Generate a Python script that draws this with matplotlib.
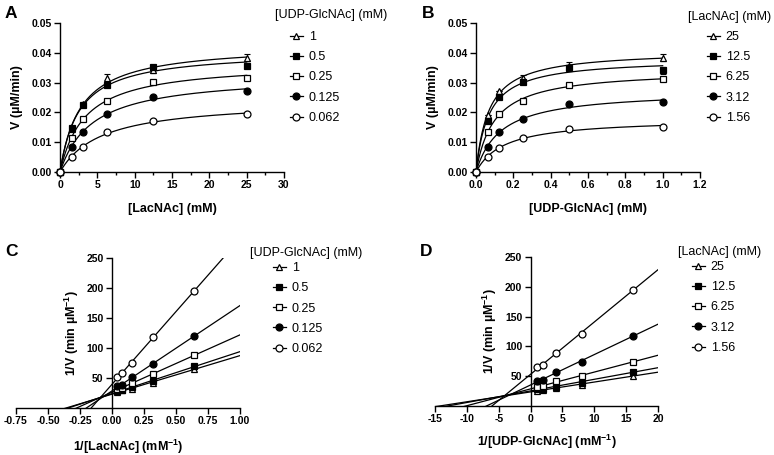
import numpy as np
import matplotlib
matplotlib.use("Agg")
import matplotlib.pyplot as plt
from matplotlib.ticker import FormatStrFormatter, MultipleLocator, FixedLocator
from matplotlib.lines import Line2D

plt.rcParams['font.family'] = ['Liberation Sans', 'DejaVu Sans']
plt.rcParams['axes.unicode_minus'] = False
plt.rcParams['mathtext.fontset'] = 'custom'
plt.rcParams['mathtext.rm'] = 'Liberation Sans:bold'
plt.rcParams['mathtext.bf'] = 'Liberation Sans:bold'
plt.rcParams['mathtext.it'] = 'Liberation Sans:bold'
plt.rcParams['mathtext.default'] = 'rm'

# ---------------- data ----------------
# Panel A: V vs [LacNAc] at several [UDP-GlcNAc]
lacnac_mM = [0, 1.56, 3.12, 6.25, 12.5, 25]
udp_labels = ['1', '0.5', '0.25', '0.125', '0.062']
A_v_udp1 = [0, 0.0145, 0.0229, 0.0316, 0.0342, 0.0384]
A_v_udp05 = [0, 0.0147, 0.0226, 0.0292, 0.0351, 0.0357]
A_v_udp025 = [0, 0.0113, 0.0177, 0.0239, 0.0303, 0.0315]
A_v_udp0125 = [0, 0.0083, 0.0135, 0.0195, 0.0253, 0.0272]
A_v_udp0062 = [0, 0.0050, 0.0083, 0.0133, 0.0171, 0.0194]
A_err_udp1 = [0, 0, 0, 0.0013, 0.0010, 0.0012]
A_err_udp05 = [0, 0, 0, 0, 0.0008, 0.0008]

# Panel B: V vs [UDP-GlcNAc] at several [LacNAc]
udp_mM = [0, 0.0625, 0.125, 0.25, 0.5, 1.0]
lac_labels = ['25', '12.5', '6.25', '3.12', '1.56']
B_v_lac25 = [0, 0.0191, 0.0272, 0.0317, 0.0357, 0.0384]
B_v_lac125 = [0, 0.0171, 0.0253, 0.0303, 0.0348, 0.0342]
B_v_lac625 = [0, 0.0135, 0.0194, 0.0239, 0.0292, 0.0312]
B_v_lac312 = [0, 0.0083, 0.0135, 0.0177, 0.0227, 0.0234]
B_v_lac156 = [0, 0.0049, 0.0082, 0.0113, 0.0143, 0.0152]
B_err_lac25 = [0, 0, 0, 0.0008, 0.0012, 0.0012]
B_err_lac125 = [0, 0, 0, 0, 0, 0.0012]

# Panel C: double reciprocal, 1/[LacNAc]
inv_lacnac = [0.04, 0.08, 0.16, 0.32, 0.64]
C_inv_v_udp1 = [26.5, 29.5, 31.5, 42.5, 65]
C_inv_v_udp05 = [28, 29.5, 34.5, 45, 69.5]
C_inv_v_udp025 = [31.5, 33, 42, 56, 88]
C_inv_v_udp0125 = [36.5, 38, 51, 73.5, 120]
C_inv_v_udp0062 = [52, 58.5, 74.5, 118, 195]

# Panel D: double reciprocal, 1/[UDP-GlcNAc]
inv_udp = [1, 2, 4, 8, 16]
D_inv_v_lac25 = [26, 27.5, 30, 35, 51]
D_inv_v_lac125 = [29, 29, 32.5, 39, 57.5]
D_inv_v_lac625 = [32, 33, 41.5, 50.5, 74]
D_inv_v_lac312 = [42.5, 44, 56.5, 73.5, 118]
D_inv_v_lac156 = [65, 69, 88.5, 120.5, 195]

styles = [('^', 'white'), ('s', 'black'), ('s', 'white'), ('o', 'black'), ('o', 'white')]

W, H = 774, 455
fig = plt.figure(figsize=(W / 100, H / 100), dpi=100)


def px_axes(l, t, r, b):
    return fig.add_axes([l / W, 1 - b / H, (r - l) / W, (b - t) / H])


def fit_mm(s, v):
    s = np.asarray(s, float)
    v = np.asarray(v, float)
    best = None
    for km in np.linspace(0.001, 3 * s.max(), 6000):
        f = s / (km + s)
        vm = np.sum(v * f) / np.sum(f * f)
        sse = np.sum((v - vm * f) ** 2)
        if best is None or sse < best[0]:
            best = (sse, vm, km)
    return best[1], best[2]


TICK_FS = 7.5
LAB_FS = 9
LEG_FS = 9
MS = 5
LW = 0.9


def style_axes(ax):
    for sp in ['top', 'right']:
        ax.spines[sp].set_visible(False)
    for sp in ['left', 'bottom']:
        ax.spines[sp].set_linewidth(1.0)
    ax.tick_params(which='major', direction='out', length=4, width=1.0,
                   labelsize=TICK_FS, pad=2)
    ax.tick_params(which='minor', direction='out', length=2.5, width=1.0)
    for lab in ax.get_xticklabels() + ax.get_yticklabels():
        lab.set_fontweight('bold')


def add_legend(ax, labels, title, title_xy, handle_x, first_top):
    handles = []
    for (m, fc), lab in zip(styles, labels):
        handles.append(Line2D([0], [0], color='black', lw=LW, marker=m,
                              markerfacecolor=fc, markeredgecolor='black',
                              markersize=MS, markeredgewidth=0.9))
    fig.text(title_xy[0] / W, 1 - title_xy[1] / H, title, fontsize=LEG_FS,
             ha='left', va='center')
    leg = ax.legend(handles, labels, loc='upper left',
                    bbox_to_anchor=(handle_x / W, 1 - first_top / H),
                    bbox_transform=fig.transFigure, frameon=False,
                    fontsize=LEG_FS, handlelength=1.0, handletextpad=0.5,
                    labelspacing=0.66, borderpad=0, borderaxespad=0)
    return leg


# ---------------- Panel A ----------------
axA = px_axes(60, 23, 284, 172)
A_series = [A_v_udp1, A_v_udp05, A_v_udp025, A_v_udp0125, A_v_udp0062]
A_errs = [A_err_udp1, A_err_udp05, None, None, None]
sfine = np.linspace(0, 25, 300)
for (m, fc), vals, err in zip(styles, A_series, A_errs):
    vm, km = fit_mm(lacnac_mM, vals)
    axA.plot(sfine, vm * sfine / (km + sfine), color='black', lw=LW, zorder=2)
    if err is not None:
        axA.errorbar(lacnac_mM, vals, yerr=err, fmt='none', ecolor='black',
                     elinewidth=0.8, capsize=2.5, capthick=0.8, zorder=3)
    axA.plot(lacnac_mM, vals, ls='none', marker=m, markerfacecolor=fc,
             markeredgecolor='black', markersize=MS, markeredgewidth=0.9,
             clip_on=False, zorder=4)
axA.set_xlim(0, 30)
axA.set_ylim(0, 0.05)
axA.xaxis.set_major_locator(MultipleLocator(5))
axA.xaxis.set_minor_locator(MultipleLocator(2.5))
axA.yaxis.set_major_locator(MultipleLocator(0.01))
axA.yaxis.set_major_formatter(FormatStrFormatter('%.2f'))
axA.set_xlabel('[LacNAc] (mM)', fontsize=LAB_FS, fontweight='bold', labelpad=9)
axA.set_ylabel('V (µM/min)', fontsize=LAB_FS, fontweight='bold', labelpad=6)
style_axes(axA)
add_legend(axA, udp_labels, '[UDP-GlcNAc] (mM)', (275, 15), 290, 31)

# ---------------- Panel B ----------------
axB = px_axes(476, 23, 700, 172)
B_series = [B_v_lac25, B_v_lac125, B_v_lac625, B_v_lac312, B_v_lac156]
B_errs = [B_err_lac25, B_err_lac125, None, None, None]
ufine = np.linspace(0, 1.0, 300)
for (m, fc), vals, err in zip(styles, B_series, B_errs):
    vm, km = fit_mm(udp_mM, vals)
    axB.plot(ufine, vm * ufine / (km + ufine), color='black', lw=LW, zorder=2)
    if err is not None:
        axB.errorbar(udp_mM, vals, yerr=err, fmt='none', ecolor='black',
                     elinewidth=0.8, capsize=2.5, capthick=0.8, zorder=3)
    axB.plot(udp_mM, vals, ls='none', marker=m, markerfacecolor=fc,
             markeredgecolor='black', markersize=MS, markeredgewidth=0.9,
             clip_on=False, zorder=4)
axB.set_xlim(0, 1.2)
axB.set_ylim(0, 0.05)
axB.xaxis.set_major_locator(MultipleLocator(0.2))
axB.xaxis.set_minor_locator(MultipleLocator(0.1))
axB.xaxis.set_major_formatter(FormatStrFormatter('%.1f'))
axB.yaxis.set_major_locator(MultipleLocator(0.01))
axB.yaxis.set_major_formatter(FormatStrFormatter('%.2f'))
axB.set_xlabel('[UDP-GlcNAc] (mM)', fontsize=LAB_FS, fontweight='bold', labelpad=9)
axB.set_ylabel('V (µM/min)', fontsize=LAB_FS, fontweight='bold', labelpad=6)
style_axes(axB)
add_legend(axB, lac_labels, '[LacNAc] (mM)', (688, 17), 707, 31)

# ---------------- Panel C ----------------
axC = px_axes(16, 258, 240, 408)
C_series = [C_inv_v_udp1, C_inv_v_udp05, C_inv_v_udp025, C_inv_v_udp0125, C_inv_v_udp0062]
xl = np.linspace(-0.75, 1.0, 50)
for (m, fc), vals in zip(styles, C_series):
    k, b = np.polyfit(inv_lacnac, vals, 1)
    axC.plot(xl, k * xl + b, color='black', lw=LW, zorder=2)
    axC.plot(inv_lacnac, vals, ls='none', marker=m, markerfacecolor=fc,
             markeredgecolor='black', markersize=MS, markeredgewidth=0.9, zorder=4)
axC.set_xlim(-0.75, 1.0)
axC.set_ylim(0, 250)
axC.spines['left'].set_position(('data', 0))
axC.xaxis.set_major_locator(MultipleLocator(0.25))
axC.xaxis.set_major_formatter(FormatStrFormatter('%.2f'))
axC.yaxis.set_major_locator(FixedLocator([50, 100, 150, 200, 250]))
axC.set_xlabel('1/[LacNAc] (mM$^{-1}$)', fontsize=LAB_FS, fontweight='bold', labelpad=8)
axC.set_ylabel('1/V (min µM$^{-1}$)', fontsize=LAB_FS, fontweight='bold', labelpad=4)
style_axes(axC)
add_legend(axC, udp_labels, '[UDP-GlcNAc] (mM)', (250, 253), 273, 262)

# ---------------- Panel D ----------------
axD = px_axes(435, 257, 658, 406)
D_series = [D_inv_v_lac25, D_inv_v_lac125, D_inv_v_lac625, D_inv_v_lac312, D_inv_v_lac156]
xd = np.linspace(-15, 20, 50)
for (m, fc), vals in zip(styles, D_series):
    k, b = np.polyfit(inv_udp, vals, 1)
    axD.plot(xd, k * xd + b, color='black', lw=LW, zorder=2)
    axD.plot(inv_udp, vals, ls='none', marker=m, markerfacecolor=fc,
             markeredgecolor='black', markersize=MS, markeredgewidth=0.9, zorder=4)
axD.set_xlim(-15, 20)
axD.set_ylim(0, 250)
axD.spines['left'].set_position(('data', 0))
axD.xaxis.set_major_locator(MultipleLocator(5))
axD.yaxis.set_major_locator(FixedLocator([50, 100, 150, 200, 250]))
axD.set_xlabel('1/[UDP-GlcNAc] (mM$^{-1}$)', fontsize=LAB_FS, fontweight='bold', labelpad=6)
axD.set_ylabel('1/V (min µM$^{-1}$)', fontsize=LAB_FS, fontweight='bold', labelpad=4)
style_axes(axD)
add_legend(axD, lac_labels, '[LacNAc] (mM)', (678, 252), 692, 261)

# panel letters
for lbl, x, y in [('A', 5, 14), ('B', 422, 14), ('C', 5, 251), ('D', 420, 251)]:
    fig.text(x / W, 1 - y / H, lbl, fontsize=12.5, fontweight='bold', ha='left', va='center')

fig.savefig('out.png', dpi=100)
